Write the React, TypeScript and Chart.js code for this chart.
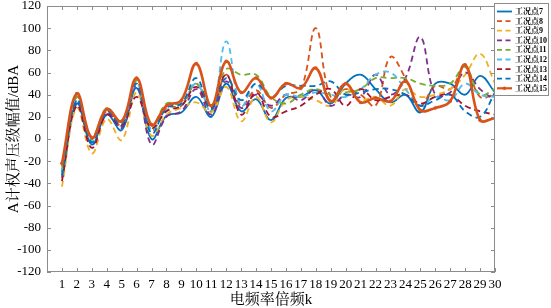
import React, { useEffect, useRef } from "react";
import { Chart, registerables } from "chart.js";

Chart.register(...registerables);

const K = [1, 2, 3, 4, 5, 6, 7, 8, 9, 10, 11, 12, 13, 14, 15, 16, 17, 18, 19, 20, 21, 22, 23, 24, 25, 26, 27, 28, 29, 30];
const Y_TICKS = [-120, -100, -80, -60, -40, -20, 0, 20, 40, 60, 80, 100, 120];

const S7 = [-30, 32, -5, 22, 8, 46, 0, 21, 24, 38, 20, 50, 25, 36, 17, 37, 38, 44, 32, 50, 58, 45, 33, 40, 24, 50, 50, 40, 57, 42];
const S8 = [-25, 38, 2, 25, 12, 52, 8, 28, 30, 50, 25, 58, 30, 44, 28, 40, 45, 100, 38, 45, 40, 30, 74, 55, 30, 48, 45, 65, 38, 40];
const S9 = [-43, 28, -13, 18, -1, 42, 3, 22, 28, 33, 24, 47, 16, 38, 15, 35, 38, 35, 30, 45, 35, 38, 30, 45, 38, 40, 45, 58, 77, 50];
const S10 = [-35, 34, -3, 24, 10, 48, -5, 20, 25, 45, 22, 52, 28, 40, 30, 40, 35, 45, 30, 40, 38, 58, 40, 55, 92, 40, 42, 60, 45, 35];
const S11 = [-28, 38, 0, 28, 15, 53, 12, 32, 32, 50, 30, 63, 58, 58, 38, 32, 40, 45, 40, 42, 45, 55, 55, 55, 50, 48, 50, 65, 40, 45];
const S12 = [-32, 36, -2, 26, 12, 50, 8, 26, 30, 50, 25, 88, 30, 50, 25, 40, 38, 42, 40, 38, 45, 58, 60, 45, 30, 38, 35, 50, 40, 38];
const S13 = [-38, 30, -8, 22, 12, 38, 10, 25, 30, 47, 28, 58, 22, 42, 20, 25, 30, 40, 45, 30, 45, 35, 38, 40, 32, 38, 40, 30, 25, 22];
const S14 = [-33, 35, -3, 25, 13, 50, 5, 28, 32, 55, 27, 55, 35, 50, 38, 48, 48, 48, 52, 40, 42, 45, 45, 40, 30, 35, 40, 25, 20, 42];
const S15 = [-22, 41, 1, 27, 16, 55, 13, 30, 35, 68, 30, 70, 42, 55, 37, 50, 46, 64, 34, 50, 33, 37, 34, 52, 26, 28, 34, 67, 17, 19];

const NAMES = ["工况点7", "工况点8", "工况点9", "工况点10", "工况点11", "工况点12", "工况点13", "工况点14", "工况点15"];
const SERIES = [S7, S8, S9, S10, S11, S12, S13, S14, S15];
const COLORS = ["#0072BD", "#D95319", "#EDB120", "#7E2F8E", "#77AC30", "#4DBEEE", "#A2142F", "#0072BD", "#D95319"];
const DASHED = [false, true, true, true, true, true, true, true, false];

const FONT = '"Liberation Serif", "Noto Serif CJK SC", "Noto Sans CJK SC", serif';

const axesPlugin = {
  id: "matlabAxes",
  afterDraw(chart: any) {
    const ctx = chart.ctx;
    const { left, right, top, bottom } = chart.chartArea;
    const xs = chart.scales.x;
    const ys = chart.scales.y;
    ctx.save();
    ctx.strokeStyle = "#8c8c8c";
    ctx.lineWidth = 1;
    ctx.setLineDash([]);
    ctx.strokeRect(left + 0.5, top + 0.5, right - left - 1, bottom - top - 1);
    ctx.beginPath();
    for (const k of K) {
      const px = Math.round(xs.getPixelForValue(k)) + 0.5;
      ctx.moveTo(px, bottom);
      ctx.lineTo(px, bottom - 4);
      ctx.moveTo(px, top);
      ctx.lineTo(px, top + 4);
    }
    for (const v of Y_TICKS) {
      const py = Math.round(ys.getPixelForValue(v)) + 0.5;
      ctx.moveTo(left, py);
      ctx.lineTo(left + 4, py);
      ctx.moveTo(right, py);
      ctx.lineTo(right - 4, py);
    }
    ctx.stroke();

    ctx.fillStyle = "#000";
    ctx.font = "13px " + FONT;
    ctx.textAlign = "center";
    ctx.textBaseline = "top";
    for (const k of K) {
      ctx.fillText(String(k), xs.getPixelForValue(k), bottom + 6);
    }
    ctx.textAlign = "right";
    ctx.textBaseline = "middle";
    for (const v of Y_TICKS) {
      ctx.fillText(String(v), left - 6, ys.getPixelForValue(v));
    }

    ctx.font = "15px " + FONT;
    ctx.textAlign = "center";
    ctx.textBaseline = "middle";
    ctx.fillText("电频率倍频k", (left + right) / 2, bottom + 28);
    ctx.save();
    ctx.translate(14, (top + bottom) / 2);
    ctx.rotate(-Math.PI / 2);
    ctx.fillText("A计权声压级幅值/dBA", 0, 0);
    ctx.restore();

    // legend
    const lx = right - 1;
    const ly = 3;
    const lw = 551 - lx - 2;
    const lh = 93;
    ctx.fillStyle = "#fff";
    ctx.fillRect(lx, ly, lw, lh);
    ctx.strokeStyle = "#8c8c8c";
    ctx.strokeRect(lx + 0.5, ly + 0.5, lw - 1, lh - 1);
    ctx.font = "bold 8px " + FONT;
    ctx.textAlign = "left";
    ctx.textBaseline = "middle";
    NAMES.forEach((name, i) => {
      const cy = ly + 8.5 + i * 9.6;
      ctx.strokeStyle = COLORS[i];
      ctx.lineWidth = i === 8 ? 2.2 : 1.8;
      ctx.setLineDash(DASHED[i] ? [5, 3.5] : []);
      ctx.beginPath();
      ctx.moveTo(lx + 3, cy);
      ctx.lineTo(lx + 18, cy);
      ctx.stroke();
      if (i === 8) {
        ctx.fillStyle = COLORS[i];
        ctx.beginPath();
        ctx.arc(lx + 10.5, cy, 1.8, 0, Math.PI * 2);
        ctx.fill();
      }
      ctx.setLineDash([]);
      ctx.fillStyle = "#000";
      ctx.fillText(name, lx + 21, cy + 0.5);
    });
    ctx.restore();
  },
};

export default function App() {
  const ref = useRef<HTMLCanvasElement | null>(null);
  useEffect(() => {
    if (!ref.current) return;
    const datasets = SERIES.map((s, i) => ({
      label: NAMES[i],
      data: K.map((k, j) => ({ x: k, y: s[j] })),
      borderColor: COLORS[i],
      backgroundColor: COLORS[i],
      borderWidth: i === 8 ? 2.6 : 1.8,
      borderDash: DASHED[i] ? [6, 4] : [],
      pointRadius: i === 8 ? 1.8 : 0,
      pointBorderWidth: 0,
      pointBackgroundColor: COLORS[i],
      tension: 0.4,
      fill: false,
      order: 8 - i,
    }));
    const chart = new Chart(ref.current, {
      type: "line",
      data: { datasets },
      options: {
        animation: false,
        responsive: false,
        devicePixelRatio: 1,
        layout: { padding: { left: 47, right: 56, top: 6, bottom: 36 } },
        plugins: { legend: { display: false }, tooltip: { enabled: false } },
        scales: {
          x: { type: "linear", min: 0, max: 30, display: false },
          y: { type: "linear", min: -120, max: 120, display: false },
        },
      },
      plugins: [axesPlugin],
    });
    return () => chart.destroy();
  }, []);
  return (
    <div style={{ position: "fixed", left: 0, top: 0, width: 551, height: 308, background: "#fff" }}>
      <canvas ref={ref} width={551} height={308} style={{ width: 551, height: 308 }} />
    </div>
  );
}
